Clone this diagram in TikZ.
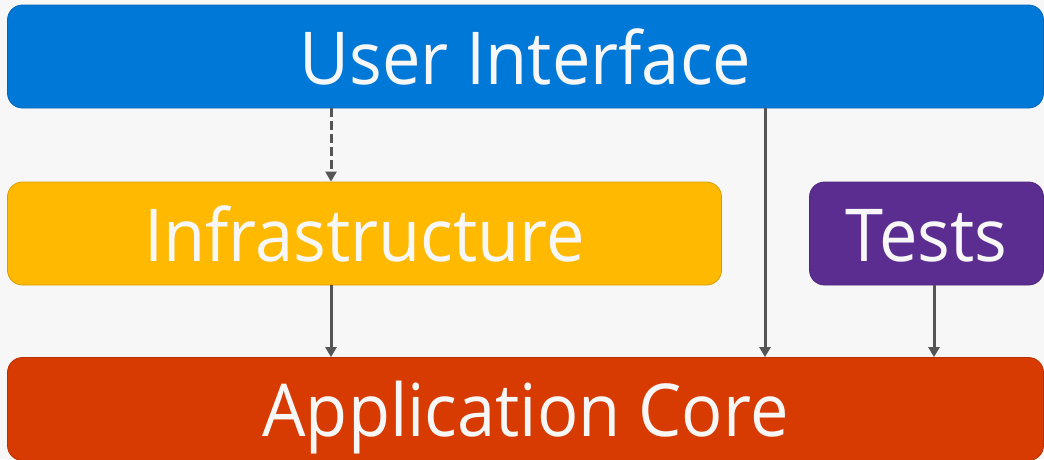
\documentclass[tikz,border=0pt]{standalone}
\usepackage{fontspec}
\setmainfont{Open Sans}[FakeStretch=0.94]
\usetikzlibrary{arrows.meta}
\definecolor{uiblue}{RGB}{0,120,215}
\definecolor{infrayellow}{RGB}{255,185,0}
\definecolor{testpurple}{RGB}{92,45,145}
\definecolor{corered}{RGB}{216,59,1}
\definecolor{bggray}{RGB}{247,247,247}
\definecolor{linegray}{RGB}{85,85,85}
\begin{document}
\begin{tikzpicture}[x=1pt, y=-1pt]
  \tikzstyle{mybox}=[rounded corners=15pt, inner sep=0pt, line width=0.8pt,
    minimum height=103pt, text=bggray, text height=55pt, text depth=0pt,
    font=\fontsize{73}{80}\selectfont];
  \tikzstyle{myconn}=[line width=3pt, linegray, -{Triangle[width=11pt, length=10pt]}];
  %
  % background
  \useasboundingbox (0, 0) rectangle (1044, 459);
  \fill[bggray] (0, 0) rectangle (1044, 459);
  %
  % layers
  \node[mybox, fill=uiblue, draw=uiblue!85!black, minimum width=1036pt]
    (ui) at (525.5, 56.5) { User Interface };
  \node[mybox, fill=infrayellow, draw=infrayellow!85!black, minimum width=714pt]
    (infra) at (364.5, 233.5) { Infrastructure };
  \node[mybox, fill=testpurple, draw=testpurple!85!black, minimum width=234pt]
    (tests) at (926.5, 233.5) { Tests };
  \node[mybox, fill=corered, draw=corered!85!black, minimum width=1036pt]
    (core) at (525.5, 409) { Application Core };
  %
  % dependencies
  \draw[myconn, dash pattern=on 9pt off 4pt] (ui.south -| 331, 0) -- (infra.north -| 331, 0);
  \draw[myconn] (infra.south -| 331, 0) -- (core.north -| 331, 0);
  \draw[myconn] (ui.south -| 765, 0) -- (core.north -| 765, 0);
  \draw[myconn] (tests.south -| 934, 0) -- (core.north -| 934, 0);
\end{tikzpicture}
\end{document}
